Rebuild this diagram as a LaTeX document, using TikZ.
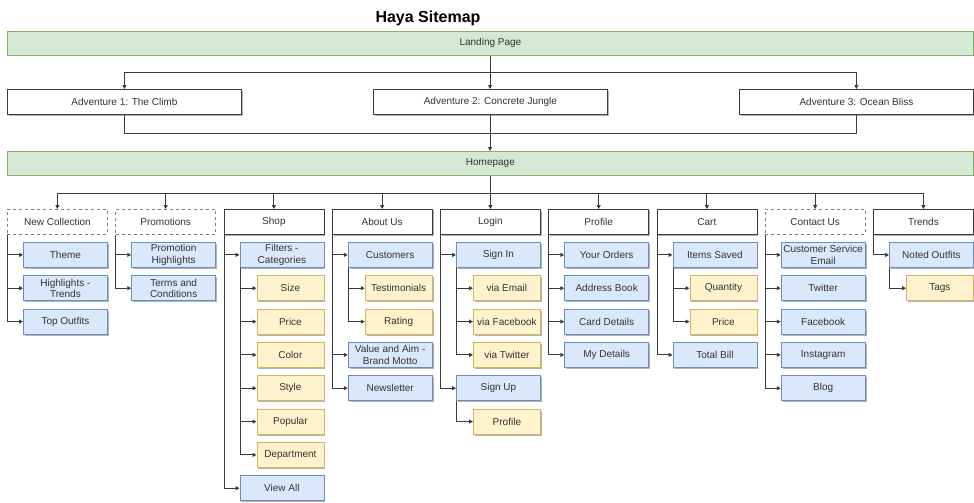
\documentclass[tikz,border=0pt]{standalone}
\usepackage{fontspec}
\setmainfont{Liberation Sans}
\usetikzlibrary{arrows.meta,shadows}
\definecolor{gfill}{HTML}{D5E8D4}
\definecolor{gline}{HTML}{82B366}
\definecolor{bfill}{HTML}{DAE8FC}
\definecolor{bline}{HTML}{6C8EBF}
\definecolor{yfill}{HTML}{FFF2CC}
\definecolor{yline}{HTML}{D6B656}
\definecolor{ink}{HTML}{333333}
\definecolor{edgec}{HTML}{3A3A3A}
\begin{document}
\begin{tikzpicture}[x=1pt,y=-1pt,
 base/.style={rectangle, inner sep=0pt, align=center, font=\fontsize{10}{11.5}\selectfont, text=ink, minimum height=25pt, anchor=north west},
 shad/.style={drop shadow={shadow xshift=1.5pt,shadow yshift=-1.5pt,opacity=0.3,fill=black}},
 bar/.style={base, fill=gfill, draw=gline, line width=0.8pt, minimum width=966pt, minimum height=24pt},
 adv/.style={base, fill=white, draw=edgec, line width=0.8pt, minimum width=234pt, shad},
 cat/.style={base, fill=white, draw=edgec, line width=0.8pt, minimum width=100pt, shad},
 dcat/.style={base, fill=white, draw=gray, dashed, line width=0.8pt, minimum width=100pt},
 blu/.style={base, fill=bfill, draw=bline, line width=0.8pt, minimum width=84pt, shad},
 yel/.style={base, fill=yfill, draw=yline, line width=0.8pt, minimum width=67pt, shad},
 conn/.style={draw=edgec, line width=0.9pt},
 arr/.style={conn, -{Triangle[length=4pt,width=4pt]}},
]
\useasboundingbox (0,0) rectangle (974,503);
\node[font=\bfseries\fontsize{16}{18}\selectfont, text=black] (title) at (428,18) {Haya Sitemap};

\node[bar] (land) at (7,31) {Landing Page};
\node[adv] (a1) at (7,89) {Adventure 1: The Climb};
\node[adv] (a2) at (373,89) {Adventure 2: Concrete Jungle};
\node[adv] (a3) at (739,89) {Adventure 3: Ocean Bliss};
\node[bar] (home) at (7,151) {Homepage};

\coordinate (j1) at (490,72);
\coordinate (j2) at (490,133);
\coordinate (j3) at (490,193);
\draw[conn] (land.south -| j1) -- (j1);
\draw[arr] (j1) -| (a1.north);
\draw[arr] (j1) -- (a2.north -| j1);
\draw[arr] (j1) -| (a3.north);
\draw[conn] (a1.south) |- (j2);
\draw[conn] (a3.south) |- (j2);
\draw[arr] (a2.south -| j2) -- (home.north -| j2);
\draw[conn] (home.south -| j3) -- (j3);

% categories
\node[dcat] (c0) at (7,209) {New Collection};
\node[dcat] (c1) at (115.25,209) {Promotions};
\node[cat] (c2) at (223.5,209) {Shop};
\node[cat] (c3) at (331.75,209) {About Us};
\node[cat] (c4) at (440,209) {Login};
\node[cat] (c5) at (548.25,209) {Profile};
\node[cat] (c6) at (656.5,209) {Cart};
\node[dcat] (c7) at (764.75,209) {Contact Us};
\node[cat] (c8) at (873,209) {Trends};
\foreach \c in {c0,c1,c2,c3,c4,c5,c6,c7,c8} {\draw[arr] (j3) -| (\c.north);}

% New Collection
\node[blu] (c0a) at (23,242) {Theme};
\node[blu] (c0b) at (23,275.3) {Highlights -\\Trends};
\node[blu] (c0c) at (23,308.7) {Top Outfits};
\foreach \n in {c0a,c0b,c0c} {\draw[arr] ([xshift=0.5pt]c0.south west) |- (\n.west);}

% Promotions
\node[blu] (c1a) at (131.25,242) {Promotion\\Highlights};
\node[blu] (c1b) at (131.25,275.3) {Terms and\\Conditions};
\foreach \n in {c1a,c1b} {\draw[arr] ([xshift=0.5pt]c1.south west) |- (\n.west);}

% Shop
\node[blu] (c2a) at (239.5,242) {Filters -\\Categories};
\node[yel] (c2a1) at (256.5,275.3) {Size};
\node[yel] (c2a2) at (256.5,308.7) {Price};
\node[yel] (c2a3) at (256.5,342) {Color};
\node[yel] (c2a4) at (256.5,375.3) {Style};
\node[yel] (c2a5) at (256.5,408.7) {Popular};
\node[yel] (c2a6) at (256.5,442) {Department};
\node[blu] (c2b) at (239.5,475.3) {View All};
\foreach \n in {c2a,c2b} {\draw[arr] ([xshift=0.5pt]c2.south west) |- (\n.west);}
\foreach \n in {c2a1,c2a2,c2a3,c2a4,c2a5,c2a6} {\draw[arr] ([xshift=0.5pt]c2a.south west) |- (\n.west);}

% About Us
\node[blu] (c3a) at (347.75,242) {Customers};
\node[yel] (c3a1) at (364.75,275.3) {Testimonials};
\node[yel] (c3a2) at (364.75,308.7) {Rating};
\node[blu] (c3b) at (347.75,342) {Value and Aim -\\Brand Motto};
\node[blu] (c3c) at (347.75,375.3) {Newsletter};
\foreach \n in {c3a,c3b,c3c} {\draw[arr] ([xshift=0.5pt]c3.south west) |- (\n.west);}
\foreach \n in {c3a1,c3a2} {\draw[arr] ([xshift=0.5pt]c3a.south west) |- (\n.west);}

% Login
\node[blu] (c4a) at (456,242) {Sign In};
\node[yel] (c4a1) at (473,275.3) {via Email};
\node[yel] (c4a2) at (473,308.7) {via Facebook};
\node[yel] (c4a3) at (473,342) {via Twitter};
\node[blu] (c4b) at (456,375.3) {Sign Up};
\node[yel] (c4b1) at (473,408.7) {Profile};
\foreach \n in {c4a,c4b} {\draw[arr] ([xshift=0.5pt]c4.south west) |- (\n.west);}
\foreach \n in {c4a1,c4a2,c4a3} {\draw[arr] ([xshift=0.5pt]c4a.south west) |- (\n.west);}
\draw[arr] ([xshift=0.5pt]c4b.south west) |- (c4b1.west);

% Profile
\node[blu] (c5a) at (564.25,242) {Your Orders};
\node[blu] (c5b) at (564.25,275.3) {Address Book};
\node[blu] (c5c) at (564.25,308.7) {Card Details};
\node[blu] (c5d) at (564.25,342) {My Details};
\foreach \n in {c5a,c5b,c5c,c5d} {\draw[arr] ([xshift=0.5pt]c5.south west) |- (\n.west);}

% Cart
\node[blu] (c6a) at (672.5,242) {Items Saved};
\node[yel] (c6a1) at (689.5,275.3) {Quantity};
\node[yel] (c6a2) at (689.5,308.7) {Price};
\node[blu] (c6b) at (672.5,342) {Total Bill};
\foreach \n in {c6a,c6b} {\draw[arr] ([xshift=0.5pt]c6.south west) |- (\n.west);}
\foreach \n in {c6a1,c6a2} {\draw[arr] ([xshift=0.5pt]c6a.south west) |- (\n.west);}

% Contact Us
\node[blu] (c7a) at (780.75,242) {Customer Service\\Email};
\node[blu] (c7b) at (780.75,275.3) {Twitter};
\node[blu] (c7c) at (780.75,308.7) {Facebook};
\node[blu] (c7d) at (780.75,342) {Instagram};
\node[blu] (c7e) at (780.75,375.3) {Blog};
\foreach \n in {c7a,c7b,c7c,c7d,c7e} {\draw[arr] ([xshift=0.5pt]c7.south west) |- (\n.west);}

% Trends
\node[blu] (c8a) at (889,242) {Noted Outfits};
\node[yel] (c8a1) at (906,275.3) {Tags};
\draw[arr] ([xshift=0.5pt]c8.south west) |- (c8a.west);
\draw[arr] ([xshift=0.5pt]c8a.south west) |- (c8a1.west);
\end{tikzpicture}
\end{document}
